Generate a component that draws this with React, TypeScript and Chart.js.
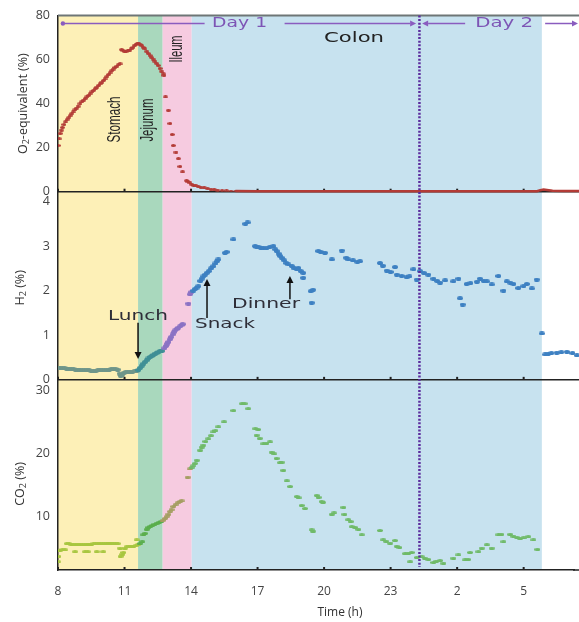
import React, { useEffect, useRef } from 'react';
import { Chart, registerables } from 'chart.js';

Chart.register(...registerables);

// ---------- data ----------
const xTicks = [8, 11, 14, 17, 20, 23, 26, 29];
const o2Ticks = [0, 20, 40, 60, 80];
const h2Ticks = [0, 1, 2, 3, 4];
const co2Ticks = [10, 20, 30];

// gut segment boundaries (hours): stomach, jejunum, ileum, colon
const segmentEdges = [8, 11.61, 12.72, 14.03, 29.82];
const midnightMarker = 24.3;

// O2-equivalent (%) [time h, value]
const o2Series: [number, number][] = [
  [8.00, 21], [8.05, 24], [8.10, 26.5], [8.15, 28], [8.20, 29.2], [8.27, 30.5], [8.34, 31.7], [8.41, 32.7],
  [8.48, 33.6], [8.55, 34.5], [8.62, 35.4], [8.69, 36.2], [8.76, 37.1], [8.83, 38.0], [8.91, 38.9], [8.99, 39.9],
  [9.07, 40.8], [9.15, 41.6], [9.23, 42.3], [9.30, 43.0], [9.37, 43.7], [9.45, 44.5], [9.53, 45.3], [9.60, 46.0],
  [9.68, 46.8], [9.75, 47.5], [9.83, 48.3], [9.90, 49.0], [9.98, 49.8], [10.05, 50.5], [10.12, 51.2], [10.20, 52.2],
  [10.28, 53.2], [10.35, 54.0], [10.42, 54.9], [10.49, 55.7], [10.57, 56.4], [10.65, 57.0], [10.72, 57.6], [10.80, 58.0],
  [10.87, 64.5], [10.93, 64.2], [11.00, 63.8], [11.07, 63.8], [11.15, 64.0], [11.23, 64.3], [11.30, 64.8], [11.38, 65.5],
  [11.45, 66.5], [11.52, 67.0], [11.58, 67.3], [11.65, 67.2], [11.72, 66.8], [11.78, 66.3], [11.85, 65.5], [11.92, 64.8],
  [12.00, 63.8], [12.07, 62.8], [12.15, 61.8], [12.22, 61.0], [12.30, 60.2], [12.37, 59.3], [12.45, 58.3], [12.52, 57.3],
  [12.60, 56.0], [12.67, 54.8], [12.75, 53.5], [12.78, 52.8],
  [12.85, 43], [12.98, 37], [13.05, 31], [13.15, 26], [13.20, 21], [13.32, 18], [13.43, 15], [13.50, 11.5],
  [13.62, 9], [13.80, 5], [13.86, 4.5], [13.95, 4.0], [14.03, 3.4], [14.12, 2.9], [14.22, 2.6], [14.33, 2.3],
  [14.45, 2.0], [14.60, 1.7], [14.75, 1.4], [14.90, 1.1], [15.05, 0.9], [15.20, 0.7], [15.40, 0.5], [15.60, 0.4],
  [15.80, 0.3], [16.00, 0.2],
];
const o2Baseline: [number, number][] = [
  [16.0, 0.3], [17, 0.25], [18, 0.2], [20, 0.2], [22, 0.2], [24, 0.2], [26, 0.2], [28, 0.2], [29.6, 0.2],
  [29.75, 0.7], [29.9, 1.0], [30.05, 0.8], [30.3, 0.4], [30.8, 0.3], [31.6, 0.3],
];

// H2 (%)
const h2Series: [number, number][] = [
  [8.00, 0.27], [8.10, 0.27], [8.20, 0.26], [8.30, 0.26], [8.40, 0.25], [8.50, 0.25], [8.60, 0.24], [8.70, 0.24],
  [8.80, 0.23], [8.90, 0.23], [9.00, 0.22], [9.10, 0.22], [9.20, 0.21], [9.30, 0.21], [9.40, 0.21], [9.50, 0.20],
  [9.60, 0.20], [9.70, 0.20], [9.80, 0.21], [9.90, 0.21], [10.00, 0.21], [10.10, 0.22], [10.20, 0.22], [10.30, 0.23],
  [10.40, 0.24], [10.50, 0.24], [10.60, 0.24], [10.70, 0.23], [10.78, 0.14], [10.83, 0.09], [10.90, 0.12], [10.97, 0.16],
  [11.05, 0.17], [11.15, 0.17], [11.25, 0.18], [11.35, 0.18], [11.45, 0.19], [11.55, 0.20], [11.62, 0.22],
  [11.70, 0.27], [11.78, 0.32], [11.85, 0.36], [11.92, 0.40], [12.00, 0.44], [12.08, 0.48], [12.15, 0.51], [12.23, 0.54],
  [12.30, 0.56], [12.38, 0.59], [12.45, 0.61], [12.53, 0.62], [12.60, 0.64], [12.68, 0.65],
  [12.80, 0.71], [12.87, 0.76], [12.93, 0.81], [12.98, 0.85], [13.05, 0.91], [13.10, 0.96], [13.17, 1.02], [13.22, 1.07],
  [13.28, 1.11], [13.35, 1.14], [13.42, 1.17], [13.50, 1.20], [13.57, 1.23], [13.62, 1.25], [13.88, 1.71],
  [13.95, 1.92], [14.02, 1.97], [14.10, 2.00], [14.18, 2.04], [14.25, 2.07], [14.33, 2.10], [14.42, 2.22], [14.48, 2.27],
  [14.56, 2.32], [14.63, 2.36], [14.71, 2.40], [14.80, 2.44], [14.90, 2.50], [15.01, 2.55], [15.10, 2.61], [15.17, 2.66],
  [15.23, 2.70], [15.53, 2.85], [15.60, 2.87], [15.91, 3.15], [16.45, 3.50], [16.55, 3.53],
  [16.89, 3.00], [16.95, 2.98], [17.05, 2.97], [17.15, 2.96], [17.26, 2.96], [17.40, 2.95], [17.55, 2.98], [17.71, 3.00],
  [17.80, 2.93], [17.86, 2.89], [17.95, 2.83], [18.02, 2.78], [18.09, 2.74], [18.20, 2.68], [18.30, 2.62], [18.39, 2.59],
  [18.55, 2.55], [18.65, 2.50], [18.77, 2.48], [18.84, 2.51], [18.95, 2.44], [19.06, 2.40], [19.06, 2.29], [19.40, 1.99],
  [19.50, 2.02], [19.44, 1.73],
  [19.74, 2.89], [19.85, 2.87], [20.04, 2.85], [20.35, 2.70], [20.80, 2.90], [21.00, 2.74], [21.09, 2.70], [21.30, 2.68],
  [21.50, 2.65], [21.62, 2.66], [22.52, 2.62], [22.65, 2.56], [22.83, 2.45], [23.00, 2.42], [23.20, 2.53], [23.28, 2.36],
  [23.50, 2.33], [23.73, 2.30], [23.85, 2.32], [24.03, 2.48], [24.18, 2.25], [24.33, 2.44], [24.50, 2.40], [24.70, 2.36],
  [24.93, 2.27], [25.10, 2.22], [25.23, 2.18], [25.46, 2.23], [25.83, 2.21], [26.06, 2.27], [26.13, 1.83], [26.25, 1.69],
  [26.43, 2.15], [26.60, 2.17], [26.89, 2.20], [27.03, 2.27], [27.20, 2.22], [27.34, 2.21], [27.56, 2.14], [27.86, 2.33],
  [28.09, 2.00], [28.24, 2.21], [28.40, 2.18], [28.54, 2.15], [28.76, 2.06], [28.99, 2.10], [29.14, 2.15], [29.37, 2.05],
  [29.59, 2.25], [29.82, 1.04], [29.97, 0.57], [30.10, 0.58], [30.25, 0.60], [30.49, 0.61], [30.70, 0.62], [30.95, 0.63],
  [31.20, 0.60], [31.40, 0.55],
];

// CO2 (%)
const co2Series: [number, number][] = [
  [8.00, 2.7], [8.02, 3.6], [8.08, 4.5], [8.20, 4.6], [8.32, 4.6], [8.77, 4.3], [9.22, 4.3], [9.35, 4.3], [9.75, 4.3], [10.04, 4.3],
  [8.40, 5.6], [8.50, 5.55], [8.60, 5.5], [8.70, 5.5], [8.80, 5.45], [8.90, 5.45], [9.00, 5.4], [9.10, 5.4], [9.20, 5.4],
  [9.30, 5.45], [9.40, 5.5], [9.50, 5.5], [9.60, 5.55], [9.70, 5.55], [9.80, 5.55], [9.90, 5.6], [10.00, 5.6], [10.10, 5.65],
  [10.20, 5.65], [10.30, 5.7], [10.40, 5.7], [10.50, 5.7], [10.60, 5.65], [10.70, 5.6],
  [10.80, 4.9], [10.82, 3.6], [10.90, 3.9], [10.95, 4.2], [11.02, 4.9], [11.10, 5.1], [11.20, 5.15], [11.30, 5.2],
  [11.40, 5.2], [11.50, 5.25], [11.55, 6.2], [11.60, 5.4],
  [11.70, 5.6], [11.80, 5.9], [11.85, 7.0], [11.92, 7.25], [12.00, 7.9], [12.08, 8.2], [12.15, 8.3], [12.25, 8.5],
  [12.35, 8.7], [12.45, 8.85], [12.55, 9.0], [12.65, 9.1], [12.72, 9.3],
  [12.82, 9.6], [12.90, 9.9], [12.98, 10.3], [13.05, 10.7], [13.12, 11.0], [13.20, 11.5], [13.30, 11.8], [13.40, 12.1],
  [13.50, 12.3], [13.58, 12.4], [13.85, 16.2],
  [13.95, 17.5], [14.03, 17.7], [14.10, 18.0], [14.18, 18.4], [14.26, 18.9], [14.41, 20.5], [14.48, 21.0], [14.55, 21.3],
  [14.65, 21.9], [14.78, 22.3], [14.90, 22.8], [15.01, 23.4], [15.10, 23.6], [15.23, 24.2], [15.49, 25.0], [15.91, 26.8],
  [16.30, 27.9], [16.42, 27.9], [16.58, 27.1], [16.90, 23.9], [17.03, 23.8], [16.96, 22.9], [17.10, 22.4], [17.26, 21.5],
  [17.40, 21.6], [17.56, 21.8], [17.64, 20.2], [17.75, 19.9], [17.86, 19.2], [18.01, 18.5], [18.09, 18.6], [18.16, 17.3],
  [18.32, 15.6], [18.47, 14.7], [18.77, 13.1], [18.85, 12.9], [18.99, 11.7], [19.14, 11.2], [19.44, 7.8], [19.50, 7.6],
  [19.67, 13.3], [19.75, 13.0], [19.89, 12.3], [19.95, 12.2], [20.35, 10.3], [20.45, 10.5], [20.87, 11.4], [20.92, 10.3],
  [21.09, 9.4], [21.20, 9.1], [21.25, 8.3], [21.40, 8.2], [21.55, 7.9], [21.70, 7.0], [22.52, 7.7], [22.67, 6.2],
  [22.80, 6.0], [22.98, 5.7], [23.20, 6.1], [23.28, 5.2], [23.40, 5.0], [23.65, 4.0], [23.80, 4.1], [23.88, 2.7],
  [23.95, 4.2], [24.18, 3.4], [24.41, 3.5], [24.55, 3.3], [24.70, 3.1], [24.93, 2.6], [25.05, 2.8], [25.23, 2.9],
  [25.38, 2.5], [25.83, 3.3], [26.06, 3.8], [26.36, 3.0], [26.50, 3.1], [26.58, 4.2], [26.96, 4.3], [27.11, 4.9],
  [27.34, 5.4], [27.56, 4.9], [27.86, 7.0], [28.00, 7.1], [28.09, 5.9], [28.39, 7.1], [28.54, 6.8], [28.70, 6.6],
  [28.84, 6.4], [29.00, 6.5], [29.21, 6.7], [29.44, 6.2], [29.62, 4.7],
];

// ---------- styling helpers ----------
const bandColors = ['#fdf0b7', '#a9d8bd', '#f6cbe0', '#c7e2ef'];
const h2Colors = ['#6f968a', '#3f8f96', '#8a72c4', '#3d80c2'];
const co2Colors = ['#a8c640', '#5aae4c', '#a59e62', '#6fba68'];

const spriteCache: Record<string, HTMLCanvasElement> = {};
function sprite(color: string, w: number, h: number) {
  const key = color + w + 'x' + h;
  if (spriteCache[key]) return spriteCache[key];
  const c = document.createElement('canvas');
  c.width = w;
  c.height = h;
  const g = c.getContext('2d')!;
  g.fillStyle = color;
  g.beginPath();
  g.ellipse(w / 2, h / 2, w / 2, h / 2, 0, 0, Math.PI * 2);
  g.fill();
  spriteCache[key] = c;
  return c;
}
function segIndex(t: number) {
  for (let i = 1; i < segmentEdges.length - 1; i++) if (t < segmentEdges[i]) return i - 1;
  return segmentEdges.length - 2;
}
const toPts = (s: [number, number][]) => s.map(([x, y]) => ({ x, y }));
const fmtHour = (v: number) => String(v >= 24 ? v - 24 : v);

function fitText(ctx: CanvasRenderingContext2D, text: string, cx: number, cy: number, font: string, color: string, width: number, rot = 0) {
  ctx.save();
  ctx.font = font;
  const w = ctx.measureText(text).width;
  ctx.translate(cx, cy);
  ctx.rotate(rot);
  ctx.scale(width / w, 1);
  ctx.fillStyle = color;
  ctx.textAlign = 'center';
  ctx.textBaseline = 'middle';
  ctx.fillText(text, 0, 0);
  ctx.restore();
}
function arrowLine(ctx: CanvasRenderingContext2D, x0: number, y0: number, x1: number, y1: number, color: string, lw: number, head = 6, half = 3) {
  const ang = Math.atan2(y1 - y0, x1 - x0);
  const bx = x1 - Math.cos(ang) * head;
  const by = y1 - Math.sin(ang) * head;
  ctx.save();
  ctx.strokeStyle = color;
  ctx.fillStyle = color;
  ctx.lineWidth = lw;
  ctx.beginPath();
  ctx.moveTo(x0, y0);
  ctx.lineTo(bx, by);
  ctx.stroke();
  ctx.beginPath();
  ctx.moveTo(x1, y1);
  ctx.lineTo(bx - Math.sin(ang) * half, by + Math.cos(ang) * half);
  ctx.lineTo(bx + Math.sin(ang) * half, by - Math.cos(ang) * half);
  ctx.closePath();
  ctx.fill();
  ctx.restore();
}
function line(ctx: CanvasRenderingContext2D, x0: number, y0: number, x1: number, y1: number) {
  ctx.beginPath();
  ctx.moveTo(x0, y0);
  ctx.lineTo(x1, y1);
  ctx.stroke();
}
function subTitle(ctx: CanvasRenderingContext2D, pre: string, sub: string, post: string, cx: number, cy: number) {
  ctx.save();
  ctx.translate(cx, cy);
  ctx.rotate(-Math.PI / 2);
  ctx.fillStyle = '#333';
  ctx.textBaseline = 'middle';
  ctx.textAlign = 'left';
  const main = '12.5px "Open Sans", sans-serif';
  const small = '9px "Open Sans", sans-serif';
  ctx.font = main;
  const w1 = ctx.measureText(pre).width;
  const w3 = ctx.measureText(post).width;
  ctx.font = small;
  const w2 = ctx.measureText(sub).width;
  let x = -(w1 + w2 + w3) / 2;
  ctx.font = main;
  ctx.fillText(pre, x, 0);
  x += w1;
  ctx.font = small;
  ctx.fillText(sub, x, 3.5);
  x += w2;
  ctx.font = main;
  ctx.fillText(post, x, 0);
  ctx.restore();
}

const overlay = {
  id: 'overlay',
  beforeDraw(chart: any) {
    const { ctx, chartArea: a, scales } = chart;
    const x = scales.x;
    ctx.save();
    ctx.fillStyle = '#ffffff';
    ctx.fillRect(0, 0, chart.width, chart.height);
    for (let i = 0; i < bandColors.length; i++) {
      const x0 = x.getPixelForValue(segmentEdges[i]);
      const x1 = x.getPixelForValue(segmentEdges[i + 1]);
      ctx.fillStyle = bandColors[i];
      ctx.fillRect(x0, a.top, x1 - x0, a.bottom - a.top);
    }
    ctx.restore();
  },
  beforeDatasetsDraw(chart: any) {
    const { ctx, chartArea: a, scales } = chart;
    const x = scales.x;
    const W = chart.width;
    ctx.save();
    ctx.strokeStyle = '#6e7676';
    ctx.lineWidth = 2;
    line(ctx, a.left, a.top, W, a.top);
    ctx.strokeStyle = '#222';
    ctx.lineWidth = 1.5;
    for (const yy of [scales.yO2.bottom, scales.yH2.bottom]) line(ctx, a.left, yy, W, yy);
    line(ctx, a.right - 1, scales.yCO2.bottom, W, scales.yCO2.bottom);
    ctx.lineWidth = 2;
    for (const yy of [scales.yO2.bottom, scales.yH2.bottom, scales.yCO2.bottom]) {
      for (const t of xTicks) {
        const px = x.getPixelForValue(t);
        line(ctx, px, yy, px, yy - 3);
      }
    }
    ctx.restore();
  },
  afterDatasetsDraw(chart: any) {
    const { ctx, chartArea: a, scales } = chart;
    const x = scales.x;
    const yO2 = scales.yO2;
    const yH2 = scales.yH2;
    const X = (t: number) => x.getPixelForValue(t);

    // midnight dotted line
    ctx.save();
    ctx.strokeStyle = '#5b2d9e';
    ctx.lineWidth = 2.5;
    ctx.setLineDash([2, 1.6]);
    const mx = X(midnightMarker);
    line(ctx, mx, a.top, mx, a.bottom - 3);
    ctx.restore();

    // Day arrows
    const purple = '#8a5cbf';
    const yDay = a.top + 8;
    const tc1 = X(16.19);
    const tc2 = X(28.12);
    ctx.save();
    ctx.strokeStyle = purple;
    ctx.fillStyle = purple;
    ctx.lineWidth = 1.5;
    const sx = X(8.22);
    ctx.beginPath();
    ctx.arc(sx, yDay, 2.2, 0, Math.PI * 2);
    ctx.fill();
    line(ctx, sx, yDay, tc1 - 35, yDay);
    ctx.restore();
    arrowLine(ctx, tc1 + 45, yDay, X(24.15), yDay, purple, 1.5);
    arrowLine(ctx, tc2 - 39, yDay, X(24.42), yDay, purple, 1.5);
    arrowLine(ctx, tc2 + 41, yDay, chart.width - 1, yDay, purple, 1.5);
    fitText(ctx, 'Day 1', tc1, yDay, '14px "DejaVu Sans", sans-serif', '#7d55b5', 55);
    fitText(ctx, 'Day 2', tc2, yDay, '14px "DejaVu Sans", sans-serif', '#7d55b5', 58);

    // segment labels
    const dark = '#222';
    fitText(ctx, 'Colon', X(21.35), yO2.getPixelForValue(69.6), '14px "DejaVu Sans", sans-serif', dark, 60);
    fitText(ctx, 'Stomach', X(10.55), yO2.getPixelForValue(32.8), '18px "Liberation Sans", sans-serif', dark, 46, -Math.PI / 2);
    fitText(ctx, 'Jejunum', X(12.04), yO2.getPixelForValue(32.5), '18px "Liberation Sans", sans-serif', dark, 43, -Math.PI / 2);
    fitText(ctx, 'Ileum', X(13.39), yO2.getPixelForValue(64.8), '18px "Liberation Sans", sans-serif', dark, 27, -Math.PI / 2);

    // meal annotations
    const ink = '#2e2e38';
    fitText(ctx, 'Lunch', X(11.61), yH2.getPixelForValue(1.43), '14px "DejaVu Sans", sans-serif', ink, 60);
    arrowLine(ctx, X(11.61), yH2.getPixelForValue(1.28), X(11.61), yH2.getPixelForValue(0.47), '#111', 1.5, 7, 3.5);
    fitText(ctx, 'Snack', X(15.53), yH2.getPixelForValue(1.25), '14px "DejaVu Sans", sans-serif', ink, 60);
    arrowLine(ctx, X(14.72), yH2.getPixelForValue(1.39), X(14.72), yH2.getPixelForValue(2.26), '#111', 1.5, 7, 3.5);
    fitText(ctx, 'Dinner', X(17.38), yH2.getPixelForValue(1.70), '14px "DejaVu Sans", sans-serif', ink, 68);
    arrowLine(ctx, X(18.46), yH2.getPixelForValue(1.81), X(18.46), yH2.getPixelForValue(2.33), '#111', 1.5, 7, 3.5);
  },
  afterDraw(chart: any) {
    const { ctx, scales } = chart;
    const yO2 = scales.yO2, yH2 = scales.yH2, yC = scales.yCO2;
    subTitle(ctx, 'O', '2', '-equivalent (%)', 23, (yO2.top + yO2.bottom) / 2);
    subTitle(ctx, 'H', '2', ' (%)', 20, (yH2.top + yH2.bottom) / 2 + 2);
    subTitle(ctx, 'CO', '2', ' (%)', 20, (yC.top + yC.bottom) / 2 + 9);
    ctx.save();
    ctx.font = '12px "Open Sans", sans-serif';
    ctx.fillStyle = '#333';
    ctx.textAlign = 'center';
    ctx.textBaseline = 'middle';
    ctx.fillText('Time (h)', 340, 613);
    ctx.restore();
  },
};

const tickFont = { family: '"Open Sans", sans-serif', size: 12.5 };
function yScale(min: number, max: number, ticks: number[], weight: number) {
  return {
    type: 'linear',
    position: 'left',
    stack: 'panels',
    stackWeight: weight,
    min,
    max,
    grid: { display: false, drawTicks: false },
    border: { display: true, color: '#222', width: 1.5 },
    ticks: { color: '#444', font: tickFont, padding: 8 },
    afterBuildTicks: (s: any) => { s.ticks = ticks.map((v) => ({ value: v })); },
    afterFit: (s: any) => { s.width = 58; },
  };
}

const edgeClip = { left: 0, right: 8, top: 0, bottom: 0 };

export default function App() {
  const ref = useRef<HTMLCanvasElement>(null);
  useEffect(() => {
    const canvas = ref.current!;
    const chart = new Chart(canvas, {
      type: 'scatter',
      data: {
        datasets: [
          {
            data: toPts(o2Series),
            yAxisID: 'yO2',
            pointRadius: 2,
            pointStyle: sprite('#b33b36', 5, 3),
          },
          {
            data: toPts(o2Baseline),
            yAxisID: 'yO2',
            showLine: true,
            pointRadius: 0,
            borderColor: '#b33b36',
            borderWidth: 2.5,
            clip: { left: 0, right: 8, top: 0, bottom: 4 },
          },
          {
            data: toPts(h2Series),
            yAxisID: 'yH2',
            pointRadius: 2,
            clip: edgeClip,
            pointStyle: (c: any) => sprite(h2Colors[segIndex(c.raw ? c.raw.x : 20)], 6, 4),
          },
          {
            data: toPts(co2Series),
            yAxisID: 'yCO2',
            pointRadius: 2,
            pointStyle: (c: any) => sprite(co2Colors[segIndex(c.raw ? c.raw.x : 20)], 6, 3),
          },
        ] as any,
      },
      options: {
        animation: false,
        responsive: false,
        devicePixelRatio: 1,
        events: [],
        layout: { padding: { top: 13, left: 0, right: 0, bottom: 0 } },
        plugins: { legend: { display: false }, tooltip: { enabled: false } },
        scales: {
          x: {
            type: 'linear',
            position: 'bottom',
            min: 8,
            max: 31.27,
            grid: { display: false, drawTicks: false },
            border: { display: true, color: '#222', width: 1.5 },
            ticks: { color: '#444', font: { family: '"Open Sans", sans-serif', size: 12 }, padding: 14, maxRotation: 0, callback: (v: any) => fmtHour(Number(v)) },
            afterBuildTicks: (s: any) => { s.ticks = xTicks.map((v) => ({ value: v })); },
            afterFit: (s: any) => { s.height = 52; },
          },
          yCO2: yScale(1.4, 31.7, co2Ticks, 191),
          yH2: yScale(0, 4.22, h2Ticks, 189),
          yO2: yScale(0, 80, o2Ticks, 177),
        } as any,
      },
      plugins: [overlay],
    } as any);
    return () => chart.destroy();
  }, []);
  return (
    <div style={{ position: 'absolute', left: 0, top: 0, width: 579, height: 622 }}>
      <canvas ref={ref} width={579} height={622} style={{ display: 'block', width: 579, height: 622 }} />
    </div>
  );
}
